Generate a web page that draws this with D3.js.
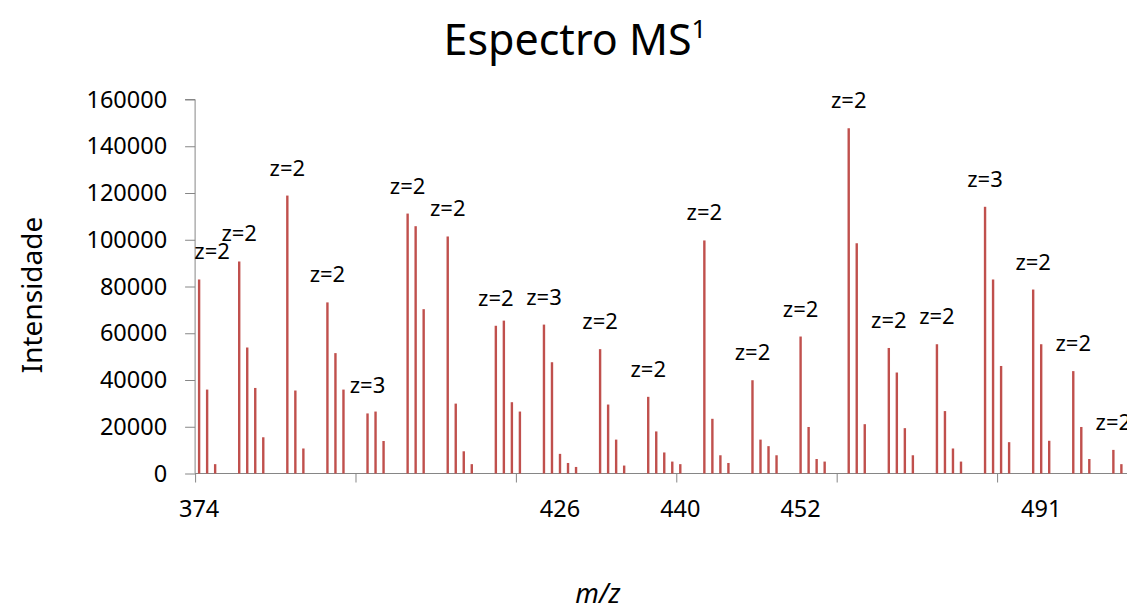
<!DOCTYPE html>
<html>
<head>
<meta charset="utf-8">
<script src="https://cdn.jsdelivr.net/npm/d3@7"></script>
<style>
  body { margin: 0; background: #fff; }
  svg { display: block; font-family: 'Noto Sans', 'Open Sans', sans-serif; }
</style>
</head>
<body>
<div id="chart"></div>
<script>
// Peak positions (category index along the m/z axis) and intensities.
const peakIdx = [
  0, 1, 2, 5, 6, 7, 8, 11, 12, 13, 16, 17, 18, 21, 22, 23,
  26, 27, 28, 31, 32, 33, 34, 37, 38, 39, 40, 43, 44, 45, 46, 47,
  50, 51, 52, 53, 56, 57, 58, 59, 60, 63, 64, 65, 66,
  69, 70, 71, 72, 75, 76, 77, 78, 81, 82, 83, 86, 87, 88, 89,
  92, 93, 94, 95, 98, 99, 100, 101, 104, 105, 106, 109, 110, 111, 114, 115
];
const peakInt = [
  83000, 35900, 4000, 90700, 53900, 36600, 15500, 118900, 35500, 10700, 73200, 51500, 35900, 25700, 26500, 13900,
  111200, 105800, 70300, 101400, 29900, 9500, 4000, 63200, 65400, 30500, 26500, 63700, 47600, 8400, 4500, 2800,
  53200, 29500, 14500, 3400, 32800, 18000, 9000, 5100, 4000, 99700, 23400, 7800, 4500,
  39900, 14500, 11700, 7800, 58600, 19900, 6200, 5100, 147700, 98500, 21100, 53700, 43200, 19400, 7800,
  55300, 26700, 10700, 5100, 114100, 83000, 46000, 13400, 78700, 55300, 14000, 43800, 19900, 6200, 10100, 4000
];

// Charge-state annotations.
const chargeIdx = [0, 5, 11, 16, 21, 26, 31, 37, 43, 50, 56, 63, 69, 75, 81, 86, 92, 98, 104, 109, 114];
const chargeText = [
  'z=2', 'z=2', 'z=2', 'z=2', 'z=3', 'z=2', 'z=2', 'z=2', 'z=3', 'z=2', 'z=2',
  'z=2', 'z=2', 'z=2', 'z=2', 'z=2', 'z=2', 'z=3', 'z=2', 'z=2', 'z=2'
];

// m/z tick labels (category index -> label).
const mzLabelIdx = [0, 45, 60, 75, 105];
const mzLabelText = ['374', '426', '440', '452', '491'];

const yTicks = [0, 20000, 40000, 60000, 80000, 100000, 120000, 140000, 160000];
const xTickIdx = [-0.5, 19.5, 39.5, 59.5, 79.5, 99.5];

const width = 1127;
const height = 611;
const barColor = '#C0504D';
const axisColor = '#868686';

const x = d3.scaleLinear().domain([-0.5, 115.7]).range([195.1, 1127]);
const y = d3.scaleLinear().domain([0, 160000]).range([473.5, 99.5]);

const svg = d3.select('#chart')
  .append('svg')
  .attr('width', width)
  .attr('height', height);

// Title.
const title = svg.append('text')
  .attr('x', 575)
  .attr('y', 55)
  .attr('text-anchor', 'middle')
  .attr('font-size', 43)
  .attr('fill', '#000');
title.append('tspan').text('Espectro MS');
title.append('tspan').attr('font-size', 26).attr('dy', -17).text('1');

// Y axis.
const yAxis = svg.append('g')
  .attr('transform', `translate(${x(-0.5)},0)`)
  .call(d3.axisLeft(y).tickValues(yTicks).tickSize(10).tickPadding(18).tickFormat(d3.format('d')));
yAxis.selectAll('path, line').attr('stroke', axisColor);
yAxis.selectAll('text')
  .attr('font-size', 23.5)
  .attr('fill', '#000')
  .attr('font-family', "'Noto Sans', sans-serif");
yAxis.select('.domain').attr('d', `M-10,${y(160000)}H0V${y(0)}`);

// X axis: line plus ticks between category groups.
const xAxis = svg.append('g')
  .attr('transform', `translate(0,${y(0)})`)
  .call(d3.axisBottom(x).tickValues(xTickIdx).tickSize(9).tickFormat(''));
xAxis.selectAll('path, line').attr('stroke', axisColor);
xAxis.select('.domain').attr('d', `M${x(-0.5)},0H${width}`);

svg.append('g')
  .selectAll('text')
  .data(mzLabelIdx)
  .join('text')
  .attr('x', d => x(d))
  .attr('y', 517)
  .attr('text-anchor', 'middle')
  .attr('font-size', 23.5)
  .text((d, i) => mzLabelText[i]);

// Peaks.
svg.append('g')
  .selectAll('rect')
  .data(peakIdx)
  .join('rect')
  .attr('x', d => x(d) - 1.2)
  .attr('width', 2.4)
  .attr('y', (d, i) => y(peakInt[i]))
  .attr('height', (d, i) => y(0) - y(peakInt[i]))
  .attr('fill', barColor);

// Charge labels sit just above the first peak of each cluster.
const intensityAt = new Map(peakIdx.map((d, i) => [d, peakInt[i]]));
svg.append('g')
  .selectAll('text')
  .data(chargeIdx)
  .join('text')
  .attr('x', (d, i) => x(d) + (i === 0 ? 13 : 0))
  .attr('y', d => y(intensityAt.get(d)) - 20)
  .attr('text-anchor', 'middle')
  .attr('font-size', 22)
  .attr('fill', '#000')
  .text((d, i) => chargeText[i]);

// Axis titles.
svg.append('text')
  .attr('transform', 'translate(42,295) rotate(-90)')
  .attr('text-anchor', 'middle')
  .attr('font-size', 28)
  .text('Intensidade');

svg.append('text')
  .attr('x', 598)
  .attr('y', 603)
  .attr('text-anchor', 'middle')
  .attr('font-size', 27)
  .attr('font-style', 'italic')
  .text('m/z');
</script>
</body>
</html>
